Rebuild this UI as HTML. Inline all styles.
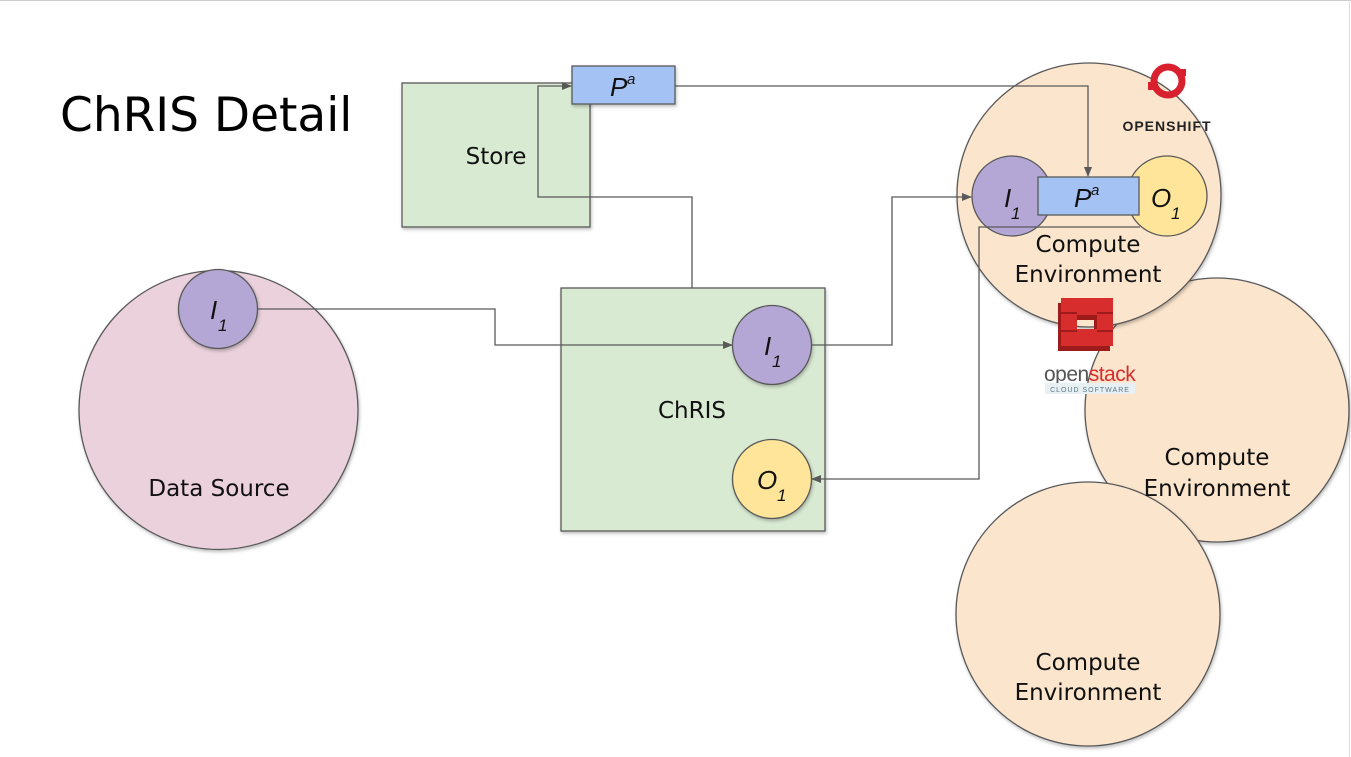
<!DOCTYPE html>
<html><head><meta charset="utf-8"><style>
html,body{margin:0;padding:0;background:#fff;}
svg{display:block;}
text{font-family:"Liberation Sans",sans-serif;}
.lbl{font-family:"DejaVu Sans","Liberation Sans",sans-serif;font-size:23px;fill:#111;}
.it{font-family:"Liberation Sans",sans-serif;font-style:italic;fill:#111;}
</style></head><body>
<svg width="1351" height="757" viewBox="0 0 1351 757" xmlns="http://www.w3.org/2000/svg">
<defs>
<marker id="ar" markerWidth="10" markerHeight="10" refX="9" refY="5" orient="auto" markerUnits="userSpaceOnUse">
<path d="M0,1 L10,5 L0,9 z" fill="#595959"/></marker>
<filter id="sh" x="-10%" y="-10%" width="130%" height="130%"><feDropShadow dx="1" dy="2" stdDeviation="1.5" flood-color="#000" flood-opacity="0.25"/></filter>
</defs>
<rect x="0" y="0" width="1351" height="757" fill="#fff"/>
<line x1="0" y1="0.5" x2="1351" y2="0.5" stroke="#ccc" stroke-width="1"/>
<line x1="1349.5" y1="0" x2="1349.5" y2="757" stroke="#ddd" stroke-width="1"/>

<text x="60" y="131" style="font-family:'DejaVu Sans','Liberation Sans',sans-serif;font-size:47px;fill:#000">ChRIS Detail</text>

<circle cx="1217" cy="410" r="132" fill="#fbe5cd" stroke="#595959" stroke-width="1.3" filter="url(#sh)"/>
<circle cx="1088" cy="614" r="132" fill="#fbe5cd" stroke="#595959" stroke-width="1.3" filter="url(#sh)"/>
<circle cx="1089" cy="195" r="132" fill="#fbe5cd" stroke="#595959" stroke-width="1.3" filter="url(#sh)"/>
<text class="lbl" x="1217" y="465" text-anchor="middle">Compute</text>
<text class="lbl" x="1217" y="496" text-anchor="middle">Environment</text>
<text class="lbl" x="1088" y="670" text-anchor="middle">Compute</text>
<text class="lbl" x="1088" y="700" text-anchor="middle">Environment</text>

<circle cx="218.5" cy="410" r="139.5" fill="#ead1dc" stroke="#595959" stroke-width="1.3" filter="url(#sh)"/>
<text class="lbl" x="219" y="496" text-anchor="middle">Data Source</text>
<circle cx="218" cy="309" r="39.5" fill="#b4a7d6" stroke="#595959" stroke-width="1.3" filter="url(#sh)"/>
<text class="it" x="210" y="319" font-size="26">I</text><text class="it" x="218" y="331" font-size="17">1</text>

<rect x="402" y="83" width="188" height="144" fill="#d9ead3" stroke="#595959" stroke-width="1.3" filter="url(#sh)"/>
<text class="lbl" x="496" y="164" text-anchor="middle">Store</text>

<rect x="561" y="288" width="264" height="243" fill="#d9ead3" stroke="#595959" stroke-width="1.3" filter="url(#sh)"/>
<text class="lbl" x="692" y="418" text-anchor="middle">ChRIS</text>
<circle cx="772" cy="345" r="39.5" fill="#b4a7d6" stroke="#595959" stroke-width="1.3" filter="url(#sh)"/>
<text class="it" x="764" y="355" font-size="26">I</text><text class="it" x="772" y="367" font-size="17">1</text>
<circle cx="772" cy="479" r="39.5" fill="#ffe599" stroke="#595959" stroke-width="1.3" filter="url(#sh)"/>
<text class="it" x="757" y="489" font-size="26">O</text><text class="it" x="777" y="501" font-size="17">1</text>

<polyline points="257,309 495,309 495,345 732,345" fill="none" stroke="#595959" stroke-width="1.3" marker-end="url(#ar)"/>
<polyline points="692,288 692,197 538,197 538,86 571,86" fill="none" stroke="#595959" stroke-width="1.3" marker-end="url(#ar)"/>
<polyline points="811,345 892,345 892,197 971,197" fill="none" stroke="#595959" stroke-width="1.3" marker-end="url(#ar)"/>
<polyline points="675,86 1088,86 1088,176" fill="none" stroke="#595959" stroke-width="1.3" marker-end="url(#ar)"/>

<rect x="572" y="66" width="103" height="38" fill="#a4c2f4" stroke="#595959" stroke-width="1.3" filter="url(#sh)"/>
<text class="it" x="610" y="96" font-size="26">P</text><text class="it" x="627" y="84" font-size="15">a</text>

<circle cx="1012" cy="196" r="40" fill="#b4a7d6" stroke="#595959" stroke-width="1.3"/>
<circle cx="1167" cy="196" r="40" fill="#ffe599" stroke="#595959" stroke-width="1.3"/>
<polyline points="1140,227 979,227 979,479 812,479" fill="none" stroke="#595959" stroke-width="1.3" marker-end="url(#ar)"/>
<rect x="1038" y="177" width="101" height="38" fill="#a4c2f4" stroke="#595959" stroke-width="1.3"/>
<text class="it" x="1004" y="207" font-size="26">I</text><text class="it" x="1011" y="219" font-size="17">1</text>
<text class="it" x="1074" y="207" font-size="26">P</text><text class="it" x="1091" y="195" font-size="15">a</text>
<text class="it" x="1151" y="207" font-size="26">O</text><text class="it" x="1171" y="219" font-size="17">1</text>
<text class="lbl" x="1088" y="252" text-anchor="middle">Compute</text>
<text class="lbl" x="1088" y="282" text-anchor="middle">Environment</text>

<circle cx="1168" cy="81" r="14" fill="none" stroke="#d9202f" stroke-width="7"/>
<rect x="1148" y="82" width="8" height="8" fill="#d9202f"/>
<rect x="1179" y="69" width="7" height="7" fill="#d9202f"/>
<text x="1167" y="131" text-anchor="middle" style="font-size:14px;font-weight:bold;letter-spacing:1px;fill:#222">OPENSHIFT</text>

<path d="M1058,303 h52 v48 h-52 z M1074,320 v14 h20 v-14 z" fill="#9e1b1b" fill-rule="evenodd"/>
<path d="M1061,298 h52 v48 h-52 z M1077,315 v14 h20 v-14 z" fill="#d82d2d" fill-rule="evenodd"/>
<line x1="1061" y1="313" x2="1077" y2="313" stroke="#9e1b1b" stroke-width="2"/>
<line x1="1097" y1="313" x2="1113" y2="313" stroke="#9e1b1b" stroke-width="2"/>
<line x1="1061" y1="331" x2="1077" y2="331" stroke="#9e1b1b" stroke-width="2"/>
<line x1="1097" y1="331" x2="1113" y2="331" stroke="#9e1b1b" stroke-width="2"/>
<text x="1044" y="381" style="font-size:21px;fill:#555;letter-spacing:-0.5px">open<tspan fill="#d82d2d">stack</tspan></text>
<rect x="1045" y="383" width="90" height="11" fill="#e8f0f3"/>
<text x="1090" y="392" text-anchor="middle" style="font-size:7px;fill:#5a7a8a;letter-spacing:1px">CLOUD SOFTWARE</text>
</svg>
</body></html>
